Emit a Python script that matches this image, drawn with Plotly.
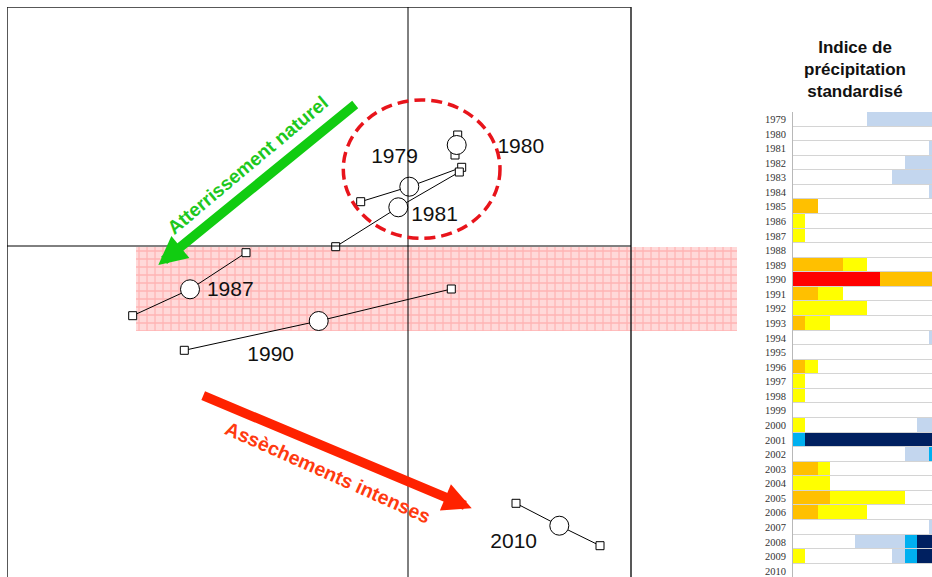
import plotly.graph_objects as go

# ---------------- Left panel: ordination trajectories ----------------
traj_years = ["1979", "1980", "1981", "1987", "1990", "2010"]
centre_x = [0.013, 0.487, -0.097, -2.18, -0.893, 1.513]
centre_y = [0.593, 1.01, 0.387, -0.433, -0.75, -2.797]
start_x = [-0.473, 0.497, -0.723, -2.753, -2.237, 1.08]
start_y = [0.443, 1.11, -0.007, -0.697, -1.043, -2.573]
end_x = [0.537, 0.47, 0.513, -1.62, 0.433, 1.92]
end_y = [0.787, 0.91, 0.74, -0.067, -0.43, -2.997]
label_x = [-0.135, 1.128, 0.265, -1.777, -1.373, 1.057]
label_y = [0.885, 0.987, 0.30, -0.447, -1.10, -2.963]

# ---------------- Right panel: standardized precipitation index ----------------
spi_years = list(range(1979, 2011))
# monthly class codes: -3 extreme dry (red), -2 orange, -1 yellow, 0 normal,
# 1 light blue, 2 cyan, 3 navy
spi_codes = [
    [0]*6 + [1]*6,              # 1979
    [0]*12,                     # 1980
    [0]*11 + [1],               # 1981
    [0]*9 + [1]*3,              # 1982
    [0]*8 + [1]*4,              # 1983
    [0]*11 + [1],               # 1984
    [-2]*2 + [0]*10,            # 1985
    [-1] + [0]*11,              # 1986
    [-1] + [0]*11,              # 1987
    [0]*12,                     # 1988
    [-2]*4 + [-1]*2 + [0]*6,    # 1989
    [-3]*7 + [-2]*5,            # 1990
    [-2]*2 + [-1]*2 + [0]*8,    # 1991
    [-1]*6 + [0]*6,             # 1992
    [-2] + [-1]*2 + [0]*9,      # 1993
    [0]*11 + [1],               # 1994
    [0]*12,                     # 1995
    [-2] + [-1] + [0]*10,       # 1996
    [-1] + [0]*11,              # 1997
    [-1] + [0]*11,              # 1998
    [0]*12,                     # 1999
    [-1] + [0]*9 + [1]*2,       # 2000
    [2] + [3]*11,               # 2001
    [0]*9 + [1]*2 + [2],        # 2002
    [-2]*2 + [-1] + [0]*9,      # 2003
    [-1]*3 + [0]*9,             # 2004
    [-2]*3 + [-1]*6 + [0]*3,    # 2005
    [-2]*2 + [-1]*4 + [0]*6,    # 2006
    [0]*11 + [1],               # 2007
    [0]*5 + [1]*4 + [2] + [3]*2,        # 2008
    [-1] + [0]*7 + [1] + [2] + [3]*2,   # 2009
    [0]*12,                     # 2010
]
months = list(range(1, 13))

class_colors = ["#ff0000", "#ffc000", "#ffff00", "#ffffff", "#c3d6ee", "#00b0f0", "#002060"]

# arrows (tip, tail) and band / ellipse in left-panel data units
green_tip, green_tail = (-2.497, -0.19), (-0.513, 1.427)
red_tip, red_tail = (0.637, -2.623), (-2.063, -1.49)
band_x = [-2.72, 3.29]
band_y = [-0.01, -0.85]
ellipse_x = [-0.647, 0.92]
ellipse_y = [0.077, 1.46]

XR = [-4.01, 3.29]
YR = [-3.31, 2.39]
FRAME_RIGHT = 2.23

fig = go.Figure()

# hatched pink band
fig.add_trace(go.Scatter(
    x=[band_x[0], band_x[1], band_x[1], band_x[0], band_x[0]],
    y=[band_y[0], band_y[0], band_y[1], band_y[1], band_y[0]],
    fill="toself", mode="none", fillcolor="#ffd8d8",
    fillpattern=dict(shape="+", fgcolor="#ff9090", bgcolor="#ffd9d9", size=8, solidity=0.3),
    hoverinfo="skip", showlegend=False, xaxis="x", yaxis="y"))

# trajectory lines
lx, ly = [], []
for i in range(len(traj_years)):
    lx += [start_x[i], centre_x[i], end_x[i], None]
    ly += [start_y[i], centre_y[i], end_y[i], None]
fig.add_trace(go.Scatter(x=lx, y=ly, mode="lines", line=dict(color="black", width=1),
                         hoverinfo="skip", showlegend=False))
fig.add_trace(go.Scatter(x=start_x + end_x, y=start_y + end_y, mode="markers",
                         marker=dict(symbol="square", size=8, color="white",
                                     line=dict(color="black", width=1)),
                         showlegend=False))
fig.add_trace(go.Scatter(x=centre_x, y=centre_y, mode="markers",
                         marker=dict(symbol="circle", size=19, color="white",
                                     line=dict(color="black", width=1)),
                         showlegend=False))
fig.add_trace(go.Scatter(x=label_x, y=label_y, mode="text", text=traj_years,
                         textfont=dict(family="Liberation Sans, Arial", size=21, color="#111"),
                         showlegend=False))

# heatmap
n = len(class_colors)
cs = []
for k, c in enumerate(class_colors):
    cs.append([k / n, c])
    cs.append([(k + 1) / n, c])
fig.add_trace(go.Heatmap(
    z=spi_codes, x=months, y=spi_years, zmin=-3.5, zmax=3.5,
    colorscale=cs, showscale=False, ygap=1, xgap=0,
    xaxis="x2", yaxis="y2", hoverinfo="skip"))

shapes = [
    # frame of the ordination plot (bottom edge lies outside the picture)
    dict(type="rect", xref="x", yref="y", x0=XR[0], x1=FRAME_RIGHT, y0=-5, y1=YR[1],
         line=dict(color="#222", width=1.5), layer="above"),
    # axes through origin
    dict(type="line", xref="x", yref="y", x0=XR[0], x1=FRAME_RIGHT, y0=0, y1=0,
         line=dict(color="black", width=1), layer="above"),
    dict(type="line", xref="x", yref="y", x0=0, x1=0, y0=-5, y1=YR[1],
         line=dict(color="black", width=1), layer="above"),
    # dashed ellipse
    dict(type="circle", xref="x", yref="y", x0=ellipse_x[0], x1=ellipse_x[1],
         y0=ellipse_y[0], y1=ellipse_y[1],
         line=dict(color="#e8141b", width=3.5, dash="11px,6px"), layer="above"),
    # grey background for heatmap row separators
    dict(type="rect", xref="x2 domain", yref="y2 domain", x0=0, x1=1, y0=0, y1=1,
         fillcolor="#d4d4d4", line=dict(width=0), layer="below"),
]

annotations = [
    dict(x=green_tip[0], y=green_tip[1], ax=green_tail[0], ay=green_tail[1],
         xref="x", yref="y", axref="x", ayref="y", text="", showarrow=True,
         arrowhead=2, arrowsize=0.6, arrowwidth=9.5, arrowcolor="#11cc11"),
    dict(x=red_tip[0], y=red_tip[1], ax=red_tail[0], ay=red_tail[1],
         xref="x", yref="y", axref="x", ayref="y", text="", showarrow=True,
         arrowhead=2, arrowsize=0.6, arrowwidth=9.5, arrowcolor="#ff2200"),
    dict(x=-1.61, y=0.81, xref="x", yref="y", text="<b>Atterrissement naturel</b>",
         textangle=-40, showarrow=False,
         font=dict(family="Liberation Sans, Arial", size=19, color="#1ec81e")),
    dict(x=-0.805, y=-2.257, xref="x", yref="y", text="<b>Assèchements intenses</b>",
         textangle=24, showarrow=False,
         font=dict(family="Liberation Sans, Arial", size=19.5, color="#ff3a10")),
    dict(x=855 / 932, y=1 - 70 / 577, xref="paper", yref="paper",
         text="<b>Indice de<br>précipitation<br>standardisé</b>", showarrow=False,
         xanchor="center", yanchor="middle",
         font=dict(family="Liberation Sans, Arial", size=17, color="#111")),
]

fig.update_layout(
    width=932, height=577, margin=dict(l=0, r=0, t=0, b=0),
    paper_bgcolor="white", plot_bgcolor="white",
    showlegend=False,
    xaxis=dict(domain=[7 / 932, 737 / 932], range=XR, visible=False),
    yaxis=dict(domain=[0, 1 - 7 / 577], range=YR, visible=False),
    xaxis2=dict(domain=[793 / 932, 1], range=[0.5, 0.5 + (932 - 793) / 12.4],
                visible=False, anchor="y2"),
    yaxis2=dict(domain=[0, (577 - 112) / 577], range=[2010.41, 1978.5], anchor="x2",
                tickvals=spi_years, ticktext=[str(y) for y in spi_years],
                tickfont=dict(family="Liberation Serif, serif", size=10.5, color="#333"),
                showline=True, linecolor="#b8b8b8", linewidth=1,
                ticks="", showgrid=False, zeroline=False, ticklabelstandoff=4),
    shapes=shapes, annotations=annotations,
)

fig.write_html("out.html")
